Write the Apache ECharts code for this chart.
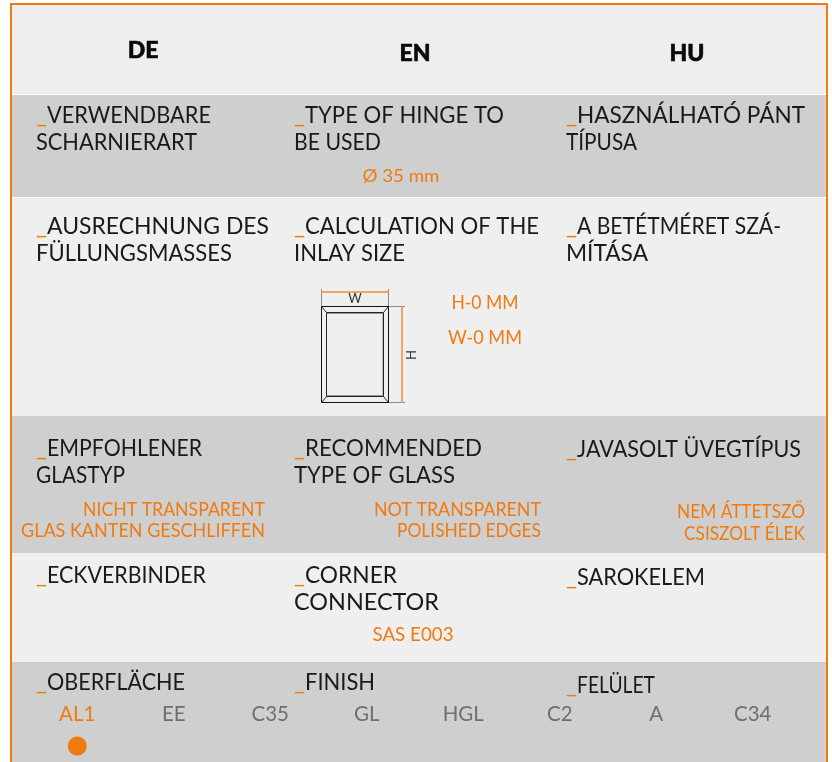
<!DOCTYPE html>
<html>
<head>
<meta charset="utf-8">
<script src="https://cdn.jsdelivr.net/npm/echarts@6/dist/echarts.min.js"></script>
<style>
html, body { margin: 0; padding: 0; background: #fff; }
#graphContainer { width: 832px; height: 762px; }
</style>
</head>
<body>
<div id="graphContainer"></div>
<script>
var languages = ['DE', 'EN', 'HU'];
var hingeTitles = [['VERWENDBARE', 'SCHARNIERART'], ['TYPE OF HINGE TO', 'BE USED'], ['HASZNÁLHATÓ PÁNT', 'TÍPUSA']];
var inlayTitles = [['AUSRECHNUNG DES', 'FÜLLUNGSMASSES'], ['CALCULATION OF THE', 'INLAY SIZE'], ['A BETÉTMÉRET SZÁ-', 'MÍTÁSA']];
var glassTitles = [['EMPFOHLENER', 'GLASTYP'], ['RECOMMENDED', 'TYPE OF GLASS'], ['JAVASOLT ÜVEGTÍPUS']];
var cornerTitles = [['ECKVERBINDER'], ['CORNER', 'CONNECTOR'], ['SAROKELEM']];
var finishTitles = [['OBERFLÄCHE'], ['FINISH'], ['FELÜLET']];
var hingeNote = 'Ø 35 mm';
var inlayNotes = ['H-0 MM', 'W-0 MM'];
var glassNotes = [['NICHT TRANSPARENT', 'GLAS KANTEN GESCHLIFFEN'], ['NOT TRANSPARENT', 'POLISHED EDGES'], ['NEM ÁTTETSZŐ', 'CSISZOLT ÉLEK']];
var cornerNote = 'SAS E003';
var finishCodes = ['AL1', 'EE', 'C35', 'GL', 'HGL', 'C2', 'A', 'C34'];
var selectedFinish = 'AL1';

var ORANGE = '#f07a10';
var FONT = 'Lato';
var TITLE_SIZE = 24;

// the original font is narrower than Lato, so each text is squeezed to its measured width
var fitWidths = {
	'VERWENDBARE': 164, 'SCHARNIERART': 161, 'TYPE OF HINGE TO': 199, 'BE USED': 87,
	'HASZNÁLHATÓ PÁNT': 228, 'TÍPUSA': 71,
	'AUSRECHNUNG DES': 222, 'FÜLLUNGSMASSES': 196, 'CALCULATION OF THE': 234, 'INLAY SIZE': 111,
	'A BETÉTMÉRET SZÁ-': 204, 'MÍTÁSA': 82,
	'EMPFOHLENER': 155, 'GLASTYP': 89, 'RECOMMENDED': 177, 'TYPE OF GLASS': 161, 'JAVASOLT ÜVEGTÍPUS': 224,
	'ECKVERBINDER': 159, 'CORNER': 92, 'CONNECTOR': 145, 'SAROKELEM': 128,
	'OBERFLÄCHE': 138, 'FINISH': 70, 'FELÜLET': 78,
	'NICHT TRANSPARENT': 182, 'GLAS KANTEN GESCHLIFFEN': 244, 'NOT TRANSPARENT': 167, 'POLISHED EDGES': 144,
	'NEM ÁTTETSZŐ': 128, 'CSISZOLT ÉLEK': 121, 'SAS E003': 81, 'H-0 MM': 67, 'W-0 MM': 74, 'Ø 35 mm': 77
};

var dom = document.getElementById('graphContainer');
var myEChart = echarts.init(dom, null, { renderer: 'canvas' });
var measure = document.createElement('canvas').getContext('2d');

function rect(x, y, w, h, fill) {
	return { type: 'rect', silent: true, shape: { x: x, y: y, width: w, height: h }, style: { fill: fill } };
}
function line(x1, y1, x2, y2, color, width) {
	return { type: 'line', silent: true, shape: { x1: x1, y1: y1, x2: x2, y2: y2 }, style: { stroke: color, lineWidth: width || 1 } };
}
function label(text, x, y, size, color, align, weight) {
	var font = (weight || 400) + ' ' + size + 'px ' + FONT;
	var el = {
		type: 'text', silent: true, x: x, y: y,
		style: { text: text, fill: color, font: font, align: align || 'left', verticalAlign: 'middle' }
	};
	if (fitWidths[text]) {
		measure.font = font;
		el.scaleX = fitWidths[text] / measure.measureText(text).width;
	}
	return el;
}

var elements = [];

// row bands
elements.push(rect(0, 0, 832, 762, '#ffffff'));
elements.push(rect(12, 5, 814, 89, '#eeeeee'));
elements.push(rect(12, 95, 814, 102, '#cfcfcf'));
elements.push(rect(12, 198, 814, 218, '#efefef'));
elements.push(rect(12, 416, 814, 137, '#cfcfcf'));
elements.push(rect(12, 553, 814, 109, '#efefef'));
elements.push(rect(12, 662, 814, 100, '#cfcfcf'));

// frame, open at the bottom
elements.push(rect(10, 3, 818, 2, ORANGE));
elements.push(rect(10, 3, 2, 759, ORANGE));
elements.push(rect(826, 3, 2, 759, ORANGE));

// header
var headerX = [143, 415, 687];
var headerY = [51, 54, 54];
languages.forEach(function (lang, i) {
	var head = label(lang, headerX[i], headerY[i], 23, '#0a0a0a', 'center', 900);
	head.style.stroke = '#0a0a0a';
	head.style.lineWidth = 0.6;
	elements.push(head);
});

// row titles, the first line starts with an orange underscore
var columnX = [36, 294, 566];
var lineHeight = 27;
function addTitles(titles, rowY) {
	titles.forEach(function (lines, col) {
		lines.forEach(function (text, n) {
			var y = rowY[col] + n * lineHeight;
			if (n == 0) {
				elements.push(label('_', columnX[col], y, TITLE_SIZE, ORANGE));
				elements.push(label(text, columnX[col] + 11, y, TITLE_SIZE, '#1a1a1a'));
			} else {
				elements.push(label(text, columnX[col], y, TITLE_SIZE, '#1a1a1a'));
			}
		});
	});
}
addTitles(hingeTitles, [115, 115, 115]);
addTitles(inlayTitles, [226, 226, 226]);
addTitles(glassTitles, [448, 448, 449]);
addTitles(cornerTitles, [575, 575, 577]);
addTitles(finishTitles, [682, 682, 685]);

// orange notes
elements.push(label(hingeNote, 401, 176, 18, ORANGE, 'center'));
elements.push(label(inlayNotes[0], 485, 303, 18.5, ORANGE, 'center'));
elements.push(label(inlayNotes[1], 485, 338, 18.5, ORANGE, 'center'));
var glassRight = [265, 541, 805];
var glassY = [[510, 531], [510, 531], [512, 534]];
glassNotes.forEach(function (lines, col) {
	lines.forEach(function (text, n) {
		elements.push(label(text, glassRight[col], glassY[col][n], 18.5, ORANGE, 'right'));
	});
});
elements.push(label(cornerNote, 413, 635, 18.5, ORANGE, 'center'));

// panel sketch
var px1 = 321.5, px2 = 388.5, py1 = 306.5, py2 = 402.5;
var ix1 = 326.5, ix2 = 383.5, iy1 = 312.5, iy2 = 396.5;
elements.push(line(px1, 289, px1, py1, '#888'));
elements.push(line(px2, 289, px2, py1, '#888'));
elements.push(line(px1, 292, px2, 292, '#f5a45c', 2));
elements.push(line(px2, py1, 405, py1, '#888'));
elements.push(line(px2, py2, 405, py2, '#888'));
elements.push(line(402, py1, 402, py2, '#f5a45c', 2));
elements.push(line(ix1, iy1 + 1, ix2, iy1 + 1, '#999', 1));
elements.push(line(ix1, iy2 - 1, ix2, iy2 - 1, '#999', 1));
elements.push(line(ix2 - 1, iy1, ix2 - 1, iy2, '#bbb', 1));
elements.push({ type: 'rect', silent: true, shape: { x: px1, y: py1, width: px2 - px1, height: py2 - py1 }, style: { fill: 'none', stroke: '#111', lineWidth: 1 } });
elements.push({ type: 'rect', silent: true, shape: { x: ix1, y: iy1, width: ix2 - ix1, height: iy2 - iy1 }, style: { fill: 'none', stroke: '#222', lineWidth: 1 } });
elements.push(line(px1, py1, ix1, iy1, '#222'));
elements.push(line(px2, py1, ix2, iy1, '#222'));
elements.push(line(px1, py2, ix1, iy2, '#222'));
elements.push(line(px2, py2, ix2, iy2, '#222'));
elements.push(label('W', 355, 299, 13, '#333', 'center'));
var hLabel = label('H', 410, 355, 13, '#333', 'center');
hLabel.rotation = -Math.PI / 2;
elements.push(hLabel);

var option = {
	animation: false,
	graphic: { elements: elements },
	// finish codes sit on a category axis, the selected one gets a dot
	grid: { left: 29, top: 702, width: 772, height: 58 },
	xAxis: {
		type: 'category',
		position: 'top',
		data: finishCodes,
		axisLine: { show: false },
		axisTick: { show: false },
		axisLabel: {
			interval: 0,
			margin: -23,
			fontFamily: FONT,
			fontSize: 20.5,
			color: function (value) {
				return value == selectedFinish ? ORANGE : '#6f6f6f';
			}
		}
	},
	yAxis: { type: 'value', min: 0, max: 1, show: false },
	series: [{
		type: 'scatter',
		z: 10,
		symbolSize: 19,
		itemStyle: { color: ORANGE, opacity: 1 },
		data: [[selectedFinish, 0.24]]
	}]
};
myEChart.setOption(option);
</script>
</body>
</html>
